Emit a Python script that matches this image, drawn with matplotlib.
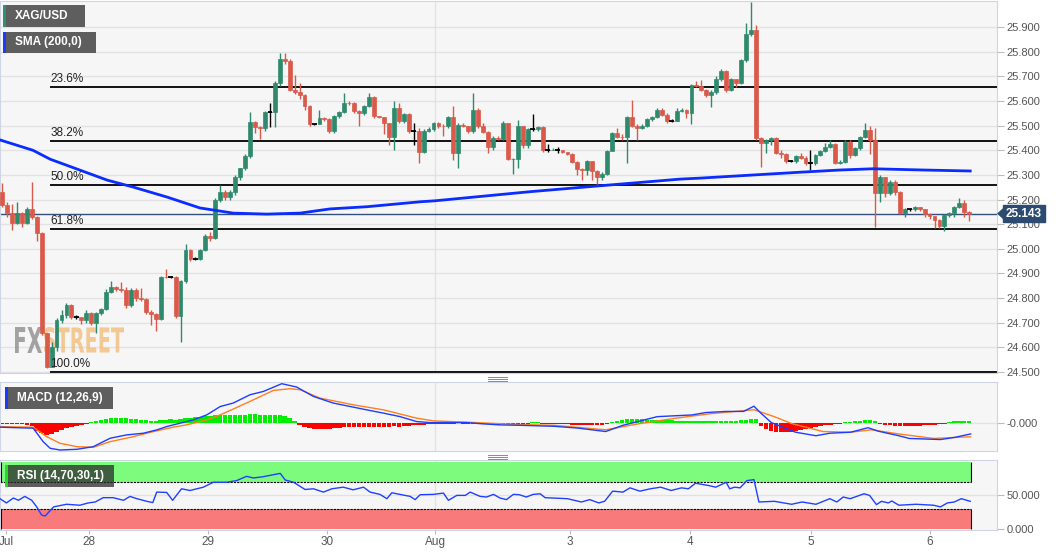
import matplotlib
matplotlib.use("Agg")
import matplotlib.pyplot as plt
import matplotlib.transforms as mtransforms
from matplotlib.patches import Rectangle, PathPatch, Polygon
from matplotlib.textpath import TextPath
from matplotlib.font_manager import FontProperties

plt.rcParams['font.family'] = ['Liberation Sans', 'DejaVu Sans']

W, H = 1060, 555

# ---------------- data (hourly candles) ----------------
day_labels = ["Jul", "28", "29", "30", "Aug", "3", "4", "5", "6"]
day_pos = [0.8, 17.5, 41.5, 65.5, 87.3, 114.5, 138.7, 163.1, 187.1]
month_line = 87.3

first_open = 25.232
closes = [
    25.178, 25.145, 25.106, 25.145, 25.106, 25.160, 25.130, 25.063, 24.657, 24.520,
    24.600, 24.710, 24.730, 24.770, 24.725, 24.725, 24.710, 24.740, 24.700, 24.740,
    24.755, 24.826, 24.844, 24.836, 24.832, 24.770, 24.834, 24.800, 24.796, 24.745,
    24.735, 24.716, 24.887, 24.884, 24.884, 24.727, 24.870, 24.995, 24.960, 24.960,
    24.995, 25.052, 25.043, 25.198, 25.230, 25.210, 25.232, 25.293, 25.327, 25.377,
    25.516, 25.493, 25.490, 25.556, 25.556, 25.672, 25.769, 25.764, 25.644, 25.637,
    25.624, 25.581, 25.505, 25.505, 25.530, 25.525, 25.479, 25.538, 25.556, 25.592,
    25.590, 25.560, 25.550, 25.580, 25.617, 25.538, 25.535, 25.510, 25.455, 25.570,
    25.520, 25.546, 25.479, 25.479, 25.394, 25.480, 25.485, 25.510, 25.500, 25.497,
    25.534, 25.390, 25.502, 25.499, 25.480, 25.563, 25.497, 25.475, 25.414, 25.450,
    25.446, 25.509, 25.364, 25.366, 25.497, 25.420, 25.486, 25.486, 25.495, 25.400,
    25.400, 25.402, 25.402, 25.393, 25.385, 25.353, 25.326, 25.320, 25.355, 25.316,
    25.290, 25.305, 25.397, 25.470, 25.455, 25.452, 25.535, 25.500, 25.490, 25.500,
    25.525, 25.535, 25.565, 25.545, 25.520, 25.520, 25.560, 25.563, 25.552, 25.665,
    25.662, 25.645, 25.625, 25.638, 25.690, 25.720, 25.643, 25.690, 25.675, 25.766,
    25.872, 25.888, 25.448, 25.430, 25.440, 25.450, 25.390, 25.385, 25.357, 25.357,
    25.377, 25.370, 25.347, 25.347, 25.380, 25.398, 25.415, 25.425, 25.350, 25.352,
    25.435, 25.380, 25.410, 25.455, 25.482, 25.440, 25.225, 25.290, 25.225, 25.270,
    25.230, 25.147, 25.160, 25.160, 25.170, 25.160, 25.141, 25.133, 25.117, 25.093,
    25.136, 25.145, 25.170, 25.187, 25.150, 25.143,
]
highs = [
    25.267, 25.190, 25.180, 25.190, 25.150, 25.170, 25.272, 25.135, 25.070, 24.660,
    24.620, 24.720, 24.750, 24.780, 24.775, 24.730, 24.720, 24.750, 24.745, 24.745,
    24.760, 24.835, 24.868, 24.850, 24.866, 24.845, 24.840, 24.840, 24.840, 24.800,
    24.750, 24.740, 24.890, 24.920, 24.890, 24.890, 24.875, 25.020, 25.000, 24.965,
    25.000, 25.060, 25.070, 25.205, 25.260, 25.240, 25.240, 25.300, 25.330, 25.385,
    25.556, 25.520, 25.500, 25.560, 25.590, 25.680, 25.796, 25.793, 25.770, 25.706,
    25.675, 25.628, 25.585, 25.508, 25.565, 25.535, 25.530, 25.545, 25.560, 25.634,
    25.600, 25.595, 25.565, 25.585, 25.634, 25.620, 25.540, 25.535, 25.510, 25.600,
    25.590, 25.550, 25.550, 25.510, 25.490, 25.485, 25.495, 25.515, 25.515, 25.505,
    25.540, 25.580, 25.510, 25.510, 25.500, 25.634, 25.570, 25.510, 25.480, 25.460,
    25.460, 25.520, 25.510, 25.370, 25.524, 25.500, 25.490, 25.546, 25.500, 25.500,
    25.425, 25.410, 25.415, 25.400, 25.390, 25.390, 25.355, 25.330, 25.360, 25.358,
    25.320, 25.310, 25.400, 25.475, 25.490, 25.465, 25.540, 25.604, 25.505, 25.505,
    25.530, 25.540, 25.570, 25.570, 25.550, 25.525, 25.570, 25.570, 25.568, 25.670,
    25.680, 25.684, 25.650, 25.645, 25.700, 25.730, 25.725, 25.695, 25.690, 25.770,
    25.915, 26.000, 25.910, 25.455, 25.445, 25.455, 25.455, 25.400, 25.390, 25.360,
    25.380, 25.390, 25.375, 25.400, 25.385, 25.400, 25.430, 25.440, 25.430, 25.360,
    25.440, 25.440, 25.415, 25.460, 25.509, 25.500, 25.490, 25.300, 25.290, 25.280,
    25.280, 25.235, 25.165, 25.162, 25.175, 25.170, 25.160, 25.145, 25.135, 25.120,
    25.140, 25.150, 25.175, 25.205, 25.200, 25.155,
]
lows = [
    25.170, 25.130, 25.076, 25.100, 25.090, 25.100, 25.120, 25.030, 24.650, 24.516,
    24.520, 24.585, 24.700, 24.720, 24.715, 24.715, 24.695, 24.700, 24.690, 24.660,
    24.730, 24.750, 24.820, 24.830, 24.825, 24.760, 24.765, 24.790, 24.790, 24.735,
    24.690, 24.668, 24.710, 24.880, 24.880, 24.720, 24.623, 24.860, 24.950, 24.955,
    24.955, 24.990, 25.030, 25.040, 25.190, 25.200, 25.200, 25.220, 25.280, 25.320,
    25.370, 25.470, 25.446, 25.480, 25.495, 25.495, 25.660, 25.750, 25.640, 25.630,
    25.610, 25.565, 25.500, 25.502, 25.510, 25.520, 25.470, 25.470, 25.530, 25.550,
    25.585, 25.550, 25.500, 25.545, 25.575, 25.530, 25.530, 25.467, 25.420, 25.400,
    25.510, 25.510, 25.470, 25.420, 25.350, 25.390, 25.475, 25.480, 25.490, 25.460,
    25.490, 25.360, 25.330, 25.495, 25.470, 25.470, 25.490, 25.470, 25.390, 25.400,
    25.440, 25.440, 25.360, 25.305, 25.330, 25.410, 25.410, 25.480, 25.480, 25.395,
    25.395, 25.400, 25.390, 25.390, 25.380, 25.350, 25.300, 25.279, 25.300, 25.280,
    25.259, 25.280, 25.300, 25.410, 25.450, 25.440, 25.348, 25.495, 25.440, 25.485,
    25.495, 25.520, 25.530, 25.540, 25.510, 25.515, 25.520, 25.555, 25.530, 25.508,
    25.655, 25.640, 25.615, 25.575, 25.630, 25.680, 25.635, 25.640, 25.655, 25.670,
    25.760, 25.865, 25.440, 25.333, 25.390, 25.420, 25.385, 25.370, 25.350, 25.353,
    25.350, 25.365, 25.340, 25.320, 25.340, 25.375, 25.395, 25.410, 25.345, 25.345,
    25.350, 25.370, 25.375, 25.400, 25.450, 25.385, 25.090, 25.190, 25.210, 25.220,
    25.220, 25.140, 25.130, 25.155, 25.155, 25.155, 25.130, 25.120, 25.085, 25.085,
    25.073, 25.130, 25.130, 25.165, 25.130, 25.115,
]
last_price = 25.143

price_ticks = [24.5, 24.6, 24.7, 24.8, 24.9, 25.0, 25.1, 25.2, 25.3, 25.4, 25.5, 25.6, 25.7, 25.8, 25.9]

# 200 period SMA
sma_x = [-0.4, 6.25, 9.7, 21.2, 26.4, 33.3, 39.9, 46.6, 53.4, 60.1, 66.1, 73.6, 84.3, 87.3,
         106.5, 120.0, 136.7, 140.7, 160.9, 169.0, 175.6, 185.7, 195.2]
sma_y = [25.442, 25.400, 25.364, 25.279, 25.251, 25.210, 25.166, 25.145, 25.141, 25.145, 25.162,
         25.171, 25.191, 25.195, 25.232, 25.255, 25.283, 25.287, 25.311, 25.320, 25.325, 25.320, 25.316]

# Fibonacci retracement levels
fib_labels = ["23.6%", "38.2%", "50.0%", "61.8%", "100.0%"]
fib_prices = [25.657, 25.438, 25.259, 25.080, 24.500]
fib_start = 9.7

# MACD (12,26,9), values in chart units (x 0.002)
macd_x = [-0.4, 6.3, 8.3, 9.7, 11.7, 15.1, 18.4, 21.8, 25.1, 28.5, 31.2, 33.2, 35.9, 38.6, 41.3,
          44.0, 46.6, 50.0, 52.7, 56.4, 59.4, 62.8, 66.8, 70.8, 73.5, 76.9, 80.2, 83.6, 86.3,
          89.7, 93.7, 97.0, 100.4, 104.3, 111.3, 116.1, 121.7, 125.2, 132.1, 139.1, 141.9,
          146.0, 149.5, 151.6, 153.0, 155.1, 160.0, 164.1, 166.9, 171.1, 174.6, 176.7, 180.8,
          182.9, 189.2, 192.0, 195.3]
macd_v = [-4.3, -5.3, -18.7, -25.3, -27.0, -26.3, -23.7, -15.3, -12.0, -10.3, -7.0, -3.7, -0.3,
          3.0, 8.0, 16.3, 19.7, 28.0, 31.3, 39.0, 35.7, 26.3, 19.7, 15.7, 13.0, 9.7, 6.3, 1.3, 0.3,
          0.3, 0.3, -1.0, -2.0, -2.4, -3.4, -5.2, -8.6, -2.4, 6.2, 7.9, 10.3, 11.4, 11.4, 16.6,
          9.7, 0.3, -9.3, -12.8, -10.3, -9.3, -4.8, -8.3, -12.8, -15.5, -16.6, -14.5, -11.0]
signal_x = [-0.4, 6.3, 9.0, 11.7, 15.1, 18.4, 21.8, 26.5, 30.5, 34.5, 37.2, 41.3, 44.0, 46.6,
            50.7, 54.7, 58.1, 60.1, 64.1, 70.8, 76.9, 83.6, 87.0, 93.7, 104.3, 111.3, 121.7,
            128.6, 135.6, 142.6, 151.6, 155.7, 159.2, 165.5, 171.1, 175.3, 180.8, 187.8, 195.3]
signal_v = [-3.7, -4.3, -13.7, -20.3, -23.7, -24.3, -18.7, -13.7, -8.7, -4.3, -2.0, 3.0, 8.0,
            13.7, 23.0, 32.3, 34.0, 33.0, 24.7, 18.0, 13.0, 4.7, 2.0, 0.7, -1.7, -2.4, -6.9,
            -0.7, 4.5, 9.0, 13.1, 6.2, -0.7, -8.6, -9.3, -6.9, -11.0, -15.5, -13.8]
macd_hist = [
    -1, -1, -1, -1, -1, -2,
    -3, -8, -10, -12, -11, -9, -7, -5, -4, -3, -2, -1,
    1, 2, 3, 4, 5, 5, 5, 5, 4, 4, 3, 3, 2, 2, 3, 3, 4, 3, 4, 5,
    5, 6, 6, 7, 7, 8, 8, 8, 8, 8, 8, 8, 9, 9, 8, 8, 8, 8, 8, 7, 5, 2,
    -2, -4, -5, -6, -6, -6, -6, -5, -5, -4, -4, -4, -4, -4, -4, -4, -4, -4, -4, -3,
    -4, -3, -3, -2, -2, -2, -1, -1,
    -1, -1, -1, -1, 0, -1, -1, -1, -1, -1, -1, -2, -2, -1, -1, -1, -1, -1, -1, 1,
    1, -1, -1, -1, -1, -1, -1, -2, -2, -2, -2, -2, -2, -2, -1,
    1, 2, 3, 4, 4, 4, 4, 3, 3, 3, 3, 3, 3, 2, 2, 2, 2, 2, 2, 2,
    2, 2, 2, 2, 2, 2, 3, 3, 4, 4,
    -3, -6, -8, -9, -9, -9, -9, -8, -7, -6, -5, -4, -3, -2, -2, -1, -1,
    1, 1, 2, 2, 3, 3, 2,
    -1, -2, -2, -3, -3, -3, -3, -3, -3, -2, -2, -2, -1, -1,
    1, 2, 2, 2, 2,
]

# RSI (14,70,30,1)
rsi_x = [-0.4, 0.9, 2.3, 3.3, 4.6, 6.0, 7.0, 8.0, 8.7, 10.4, 13.0, 15.7, 17.4, 18.8, 20.4, 22.4,
         24.5, 25.8, 27.2, 29.2, 30.4, 31.2, 33.2, 34.4, 36.2, 37.9, 40.6, 42.6, 45.3, 47.3,
         49.3, 50.7, 52.7, 54.7, 56.1, 57.1, 58.8, 61.1, 62.8, 64.8, 66.5, 68.8, 70.8, 72.9,
         74.2, 76.2, 77.6, 78.6, 80.2, 82.3, 83.3, 84.3, 87.0, 89.0, 90.0, 91.7, 93.4, 94.4,
         96.4, 97.7, 99.1, 100.4, 101.7, 103.1, 104.3, 105.7, 107.1, 108.5, 109.5, 114.0,
         116.8, 118.5, 120.3, 121.5, 123.1, 125.2, 126.6, 128.6, 130.7, 132.8, 134.9, 137.0,
         138.4, 139.8, 142.5, 143.9, 146.0, 146.7, 147.7, 148.8, 150.2, 151.6, 152.6, 155.7,
         159.2, 161.3, 164.1, 166.9, 168.3, 169.6, 171.0, 173.8, 174.9, 176.3, 177.3, 178.7,
         179.4, 180.8, 184.3, 187.8, 189.2, 190.6, 192.0, 193.4, 195.2]
rsi_v = [45.1, 38.8, 46.1, 42.7, 48.5, 42.7, 32.9, 20.7, 19.3, 32.9, 36.8, 35.4, 38.8, 40.2, 46.6,
         46.6, 42.7, 48.5, 45.1, 41.2, 39.3, 54.9, 54.4, 42.7, 59.8, 57.3, 62.2, 69.5, 69.5, 72.0,
         78.3, 75.9, 77.8, 80.7, 82.7, 72.9, 69.5, 58.8, 59.8, 54.9, 59.8, 62.2, 58.3, 62.2, 54.9,
         51.5, 45.1, 53.9, 51.5, 48.5, 43.7, 51.0, 51.5, 53.4, 42.7, 50.0, 50.0, 54.9, 48.5, 47.6,
         51.5, 46.1, 43.7, 51.5, 51.0, 47.6, 51.5, 52.4, 46.6, 45.1, 40.2, 43.7, 38.8, 41.2, 56.3,
         54.9, 61.2, 56.3, 59.8, 62.2, 57.3, 61.2, 59.8, 68.1, 64.6, 62.2, 69.5, 59.8, 62.2, 61.2,
         72.0, 73.4, 40.2, 41.2, 36.8, 40.2, 36.8, 45.1, 40.2, 47.6, 45.1, 52.4, 50.0, 36.3, 41.2,
         38.8, 41.7, 35.4, 36.8, 35.4, 32.9, 38.8, 40.2, 45.1, 41.2]

# ---------------- colours ----------------
GREEN = "#2f8a6d"
RED = "#d9594a"
PANEL_BG = "#f6f6f6"
SPINE = "#cfd5e4"
GRID = "#e2e2e2"
TICK_TXT = "#555555"
PRICE_BOX = "#2d4b70"

x_min, x_max = -0.4, 200.6
x_end = len(closes) - 0.6

fig = plt.figure(figsize=(W / 100, H / 100), dpi=100)
fig.patch.set_facecolor("white")

# pixel coordinates (origin top left) -> display
px = mtransforms.Affine2D().scale(1, -1).translate(0, H).scale(1 / 100.0) + fig.dpi_scale_trans


def panel(top, bottom):
    ax = fig.add_axes([0, 1 - bottom / H, 997 / W, (bottom - top) / H])
    ax.set_facecolor(PANEL_BG)
    for s in ax.spines.values():
        s.set_color(SPINE)
    ax.set_xlim(x_min, x_max)
    ax.yaxis.tick_right()
    ax.tick_params(axis="y", length=5, color="#bbbbbb", labelsize=8, labelcolor=TICK_TXT, pad=2)
    ax.tick_params(axis="x", length=0, labelbottom=False)
    ax.axvline(month_line, color=GRID, lw=1, zorder=0)
    return ax


ax = panel(1, 373)
ax_macd = panel(382, 451)
ax_rsi = panel(460, 529.5)

# ---------------- main price panel ----------------
ax.set_ylim(24.496, 26.006)
ax.set_yticks(price_ticks, [f"{p:.3f}" for p in price_ticks])
for p in price_ticks:
    ax.axhline(p, color=GRID, lw=1, zorder=0)

opens = [first_open] + closes[:-1]
idx = list(range(len(closes)))
body_bottom, body_height, body_color = [], [], []
for o, c in zip(opens, closes):
    if c == o:
        col = "black"
    elif c > o:
        col = GREEN
    else:
        col = RED
    body_color.append(col)
    body_bottom.append(min(o, c))
    body_height.append(abs(c - o))

ax.vlines(idx, lows, highs, colors=body_color, lw=1, zorder=3)
ax.bar(idx, body_height, bottom=body_bottom, width=0.78, color=body_color,
       edgecolor=body_color, lw=0.5, zorder=4)
doji = [i for i in idx if opens[i] == closes[i]]
ax.hlines([closes[i] for i in doji], [i - 0.45 for i in doji], [i + 0.45 for i in doji],
          color="black", lw=1.3, zorder=4)

# SMA 200
ax.plot(sma_x, sma_y, color="#0a2cff", lw=2, zorder=5)

# fibonacci levels
ax.hlines(fib_prices, fib_start, x_max, color="black", lw=1.3, zorder=2)
for lab, p in zip(fib_labels, fib_prices):
    ax.text(fib_start, p + 0.008, lab, fontsize=8.5, color="#222222", va="bottom", ha="left", zorder=6)

# last price line + label on the right axis
ax.axhline(last_price, color="#34507a", lw=1, zorder=2)
yb = mtransforms.blended_transform_factory(ax.transAxes, ax.transData)
ax.text(1.009, last_price, f"{last_price:.3f}", transform=yb,
        ha="left", va="center", fontsize=8.5, fontweight="bold", color="white", clip_on=False,
        bbox=dict(boxstyle="square,pad=0.22", facecolor=PRICE_BOX, edgecolor=PRICE_BOX), zorder=10)
ax.add_artist(Polygon([[1.0, last_price], [1.006, last_price + 0.022], [1.006, last_price - 0.022]],
                      closed=True, transform=yb, facecolor=PRICE_BOX, edgecolor="none",
                      clip_on=False, zorder=10))

# FXStreet watermark


def watermark(text, color, x0, x1, y0, y1, alpha):
    tp = TextPath((0, 0), text, size=1, prop=FontProperties(family="DejaVu Sans", weight="bold"))
    bb = tp.get_extents()
    tr = (mtransforms.Affine2D().translate(-bb.x0, -bb.y0)
          .scale((x1 - x0) / bb.width, -(y1 - y0) / bb.height).translate(x0, y1) + px)
    ax.add_artist(PathPatch(tp, transform=tr, facecolor=color, edgecolor="none",
                            alpha=alpha, zorder=1, clip_on=False))


watermark("FX", "#8d8d8d", 15, 42, 327, 353, 0.8)
watermark("STREET", "#f2b56a", 44, 124, 327, 353, 0.7)

# ---------------- MACD panel ----------------
ax_macd.set_ylim(-28, 40.7)
ax_macd.set_yticks([0], ["-0.000"])
ax_macd.axhline(0, color=GRID, lw=1, zorder=0)
hist_colors = ["#00ee00" if v > 0 else "#ff0000" for v in macd_hist]
ax_macd.bar(idx, macd_hist, width=0.9, color=hist_colors, zorder=2)
ax_macd.plot(signal_x, signal_v, color="#ff7f1e", lw=1, zorder=3)
ax_macd.plot(macd_x, macd_v, color="#1f3dff", lw=1, zorder=4)

# ---------------- RSI panel ----------------
ax_rsi.set_ylim(-0.7, 102.6)
ax_rsi.set_yticks([0, 50], ["0.000", "50.000"])
ax_rsi.axhline(50, color=GRID, lw=1, zorder=0)
ax_rsi.fill_between([x_min, x_end], 70, 100, color="#7dfb7d", zorder=1, lw=0)
ax_rsi.fill_between([x_min, x_end], 0, 30, color="#f87a7a", zorder=1, lw=0)
ax_rsi.hlines([70, 30], x_min, x_end, color="black", lw=0.8, linestyles=(0, (2, 1)), zorder=2)
ax_rsi.vlines([x_min + 0.2, x_end], 70, 100, color="black", lw=0.8, zorder=2)
ax_rsi.vlines([x_min + 0.2, x_end], 0, 30, color="black", lw=0.8, zorder=2)
ax_rsi.plot(rsi_x, rsi_v, color="#2040ff", lw=1, zorder=3)
ax_rsi.set_xticks(day_pos, day_labels)
ax_rsi.tick_params(axis="x", length=3, color="#bbbbbb", labelbottom=True, labelsize=8.5,
                   labelcolor=TICK_TXT, pad=2)

# ---------------- legend tags ----------------


def tag(x, y, w, h, text, strip, face="#5e5e5e", alpha=1.0):
    fig.add_artist(Rectangle((x, y), w, h, transform=px, facecolor=face, edgecolor="none",
                             alpha=alpha, zorder=8))
    fig.add_artist(Rectangle((x, y), 3, h, transform=px, facecolor=strip, edgecolor="none", zorder=9))
    fig.text(x + 12, y + h / 2, text, transform=px, color="white", fontsize=8.5,
             fontweight="bold", va="center", ha="left", zorder=10)


tag(3, 5, 82, 22, "XAG/USD", "#2f8f72")
tag(3, 32, 93, 21, "SMA (200,0)", "#1a3cff")
tag(5, 387, 108, 22, "MACD (12,26,9)", "#1a3cff")
tag(5, 465, 109, 22, "RSI (14,70,30,1)", "#22dd22", face="#2a2a2a", alpha=0.75)

# panel resize handles
for yy in (376.5, 378.5, 380.5, 454.5, 456.5, 458.5):
    fig.add_artist(plt.Line2D([488, 507], [yy, yy], transform=px, color="#8a8a8a", lw=0.7))

fig.savefig("out.png", dpi=100)
